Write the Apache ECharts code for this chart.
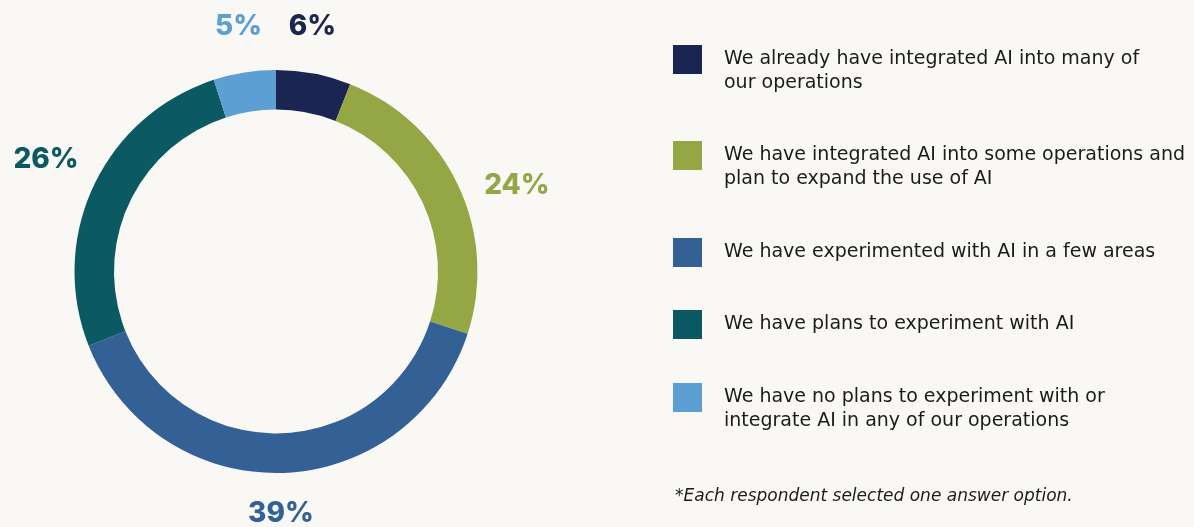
<!DOCTYPE html>
<html>
<head>
<meta charset="utf-8">
<script src="https://cdn.jsdelivr.net/npm/echarts@6/dist/echarts.min.js"></script>
<style>
  html, body { margin: 0; padding: 0; background: #f9f8f5; }
  #chart { width: 1194px; height: 527px; }
</style>
</head>
<body>
<div id="chart"></div>
<script>
// Survey answers: stage of AI adoption
const categories = [
  'We already have integrated AI into many of\nour operations',
  'We have integrated AI into some operations and\nplan to expand the use of AI',
  'We have experimented with AI in a few areas',
  'We have plans to experiment with AI',
  'We have no plans to experiment with or\nintegrate AI in any of our operations'
];
const shares = [6, 24, 39, 26, 5];
const colors = ['#1a2651', '#95a644', '#336196', '#0b5a63', '#5b9fd3'];
const footnote = '*Each respondent selected one answer option.';

const CENTER = [276, 271.5];
const LEGEND_TOPS = [45, 141, 238, 310, 383]; // top of each legend square
const LABEL_NUDGE = [[-11, 4], [12, 22], [-3, -11], [-1, -4], [2, 5]];

const chart = echarts.init(document.getElementById('chart'), null, { renderer: 'canvas' });

const legendFont = { fontFamily: 'DejaVu Sans', fontSize: 19, color: '#1b1b1b', lineHeight: 24, padding: [0, 0, 0, 17] };

// one legend block per answer; a leading blank line keeps the square
// level with the first line of a two-line entry
const legends = categories.map((name, i) => {
  const twoLines = name.indexOf('\n') >= 0;
  return {
    orient: 'vertical',
    left: 673,
    top: LEGEND_TOPS[i] - (twoLines ? 21.5 : 0),
    padding: 0,
    icon: 'rect',
    itemWidth: 29,
    itemHeight: 29,
    itemGap: 0,
    selectedMode: false,
    formatter: twoLines ? (n) => '\n' + n : '{name}',
    textStyle: legendFont,
    data: [name]
  };
});

const data = categories.map((name, i) => ({
  name: name,
  value: shares[i],
  itemStyle: { color: colors[i] }
}));

const labelData = categories.map((name, i) => ({
  name: name,
  value: shares[i],
  itemStyle: { color: 'transparent' },
  label: {
    color: colors[i],
    offset: LABEL_NUDGE[i]
  }
}));

chart.setOption({
  backgroundColor: '#f9f8f5',
  animation: false,
  title: {
    text: footnote,
    left: 675,
    top: 488,
    padding: 0,
    textStyle: {
      fontFamily: 'DejaVu Sans',
      fontStyle: 'italic',
      fontWeight: 'normal',
      fontSize: 17,
      color: '#1b1b1b'
    }
  },
  legend: legends,
  series: [
    {
      type: 'pie',
      center: CENTER,
      radius: [162, 201.5],
      startAngle: 90,
      clockwise: true,
      silent: true,
      label: { show: false },
      labelLine: { show: false },
      itemStyle: { borderWidth: 0 },
      data: data
    },
    {
      // percentage labels on a ring just outside the donut
      type: 'pie',
      center: CENTER,
      radius: [240, 260],
      startAngle: 90,
      clockwise: true,
      silent: true,
      legendHoverLink: false,
      label: {
        show: true,
        position: 'inside',
        formatter: '{c}%',
        fontFamily: 'Inter',
        fontWeight: 800,
        fontSize: 28
      },
      labelLine: { show: false },
      data: labelData
    }
  ]
});
</script>
</body>
</html>
